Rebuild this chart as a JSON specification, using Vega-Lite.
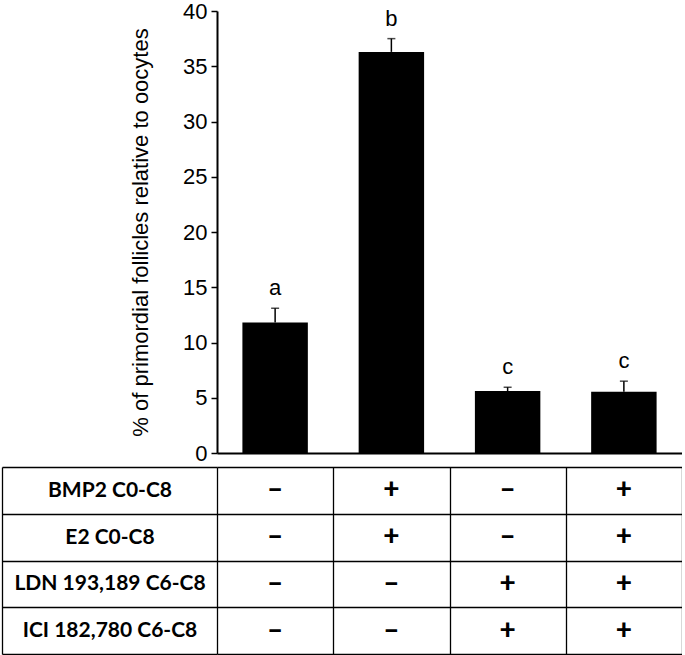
{
  "$schema": "https://vega.github.io/schema/vega-lite/v6.json",
  "padding": {"left": 1, "top": 0, "right": 0, "bottom": 0},
  "config": {"view": {"stroke": null}, "font": "Liberation Sans"},
  "data": {"values": [
    {"group": "Control", "value": 11.8, "upper": 13.1, "letter": "a", "BMP2 C0-C8": "–", "E2 C0-C8": "–", "LDN 193,189 C6-C8": "–", "ICI 182,780 C6-C8": "–"},
    {"group": "BMP2+E2", "value": 36.3, "upper": 37.5, "letter": "b", "BMP2 C0-C8": "+", "E2 C0-C8": "+", "LDN 193,189 C6-C8": "–", "ICI 182,780 C6-C8": "–"},
    {"group": "LDN+ICI", "value": 5.6, "upper": 5.95, "letter": "c", "BMP2 C0-C8": "–", "E2 C0-C8": "–", "LDN 193,189 C6-C8": "+", "ICI 182,780 C6-C8": "+"},
    {"group": "All", "value": 5.55, "upper": 6.5, "letter": "c", "BMP2 C0-C8": "+", "E2 C0-C8": "+", "LDN 193,189 C6-C8": "+", "ICI 182,780 C6-C8": "+"}
  ]},
  "bounds": "flush",
  "spacing": 14,
  "vconcat": [
    {
      "width": 465,
      "height": 442,
      "encoding": {
        "x": {
          "field": "group", "type": "nominal",
          "scale": {"domain": ["Control", "BMP2+E2", "LDN+ICI", "All"], "paddingInner": 0.437, "paddingOuter": 0.2185},
          "axis": {"labels": false, "ticks": false, "title": null, "domainColor": "black", "domainWidth": 2}
        }
      },
      "layer": [
        {
          "mark": {"type": "bar", "color": "black"},
          "encoding": {
            "y": {
              "field": "value", "type": "quantitative",
              "scale": {"domain": [0, 40], "nice": false},
              "axis": {
                "values": [0, 5, 10, 15, 20, 25, 30, 35, 40],
                "title": "% of primordial follicles relative to oocytes",
                "titleFont": "Liberation Sans", "titleFontSize": 22, "titleFontWeight": "normal", "titleColor": "black", "titlePadding": 30,
                "labelFont": "Liberation Sans", "labelFontSize": 22, "labelColor": "black", "labelPadding": 4,
                "tickSize": 6, "tickWidth": 1.5, "tickColor": "black",
                "domainColor": "black", "domainWidth": 2, "grid": false
              }
            }
          }
        },
        {
          "mark": {"type": "rule", "color": "black", "strokeWidth": 1.5},
          "encoding": {
            "y": {"field": "value", "type": "quantitative"},
            "y2": {"field": "upper"}
          }
        },
        {
          "mark": {"type": "tick", "color": "black", "thickness": 1.5, "size": 8, "orient": "horizontal"},
          "encoding": {
            "y": {"field": "upper", "type": "quantitative"}
          }
        },
        {
          "mark": {"type": "text", "font": "Liberation Sans", "fontSize": 22, "color": "black", "baseline": "alphabetic", "dy": -13},
          "encoding": {
            "y": {"field": "upper", "type": "quantitative"},
            "text": {"field": "letter"}
          }
        }
      ]
    },
    {
      "width": 465,
      "height": 187,
      "transform": [{"fold": ["BMP2 C0-C8", "E2 C0-C8", "LDN 193,189 C6-C8", "ICI 182,780 C6-C8"], "as": ["treatment", "sign"]}],
      "mark": {"type": "text", "font": "Lato", "fontWeight": 900, "fontSize": 28, "color": "black", "baseline": "middle"},
      "encoding": {
        "x": {
          "field": "group", "type": "nominal",
          "scale": {"domain": ["Control", "BMP2+E2", "LDN+ICI", "All"], "paddingInner": 0, "paddingOuter": 0},
          "axis": {"orient": "top", "domain": false, "ticks": false, "labels": false, "title": null, "grid": true, "tickBand": "extent", "gridColor": "black", "gridWidth": 1.3, "gridOpacity": 1}
        },
        "y": {
          "field": "treatment", "type": "nominal",
          "scale": {"domain": ["BMP2 C0-C8", "E2 C0-C8", "LDN 193,189 C6-C8", "ICI 182,780 C6-C8"], "paddingInner": 0, "paddingOuter": 0},
          "axis": {
            "title": null, "offset": 215,
            "domainColor": "black", "domainWidth": 1.3,
            "ticks": true, "tickSize": -215, "tickBand": "extent", "tickColor": "black", "tickWidth": 1.3,
            "grid": true, "gridColor": "black", "gridWidth": 1.3, "gridOpacity": 1,
            "labelFont": "Lato", "labelFontWeight": "bold", "labelFontSize": 21, "labelColor": "black",
            "labelAlign": "center", "labelBaseline": "middle", "labelPadding": 107.5, "labelLimit": 0
          }
        },
        "text": {"field": "sign"}
      }
    }
  ]
}
